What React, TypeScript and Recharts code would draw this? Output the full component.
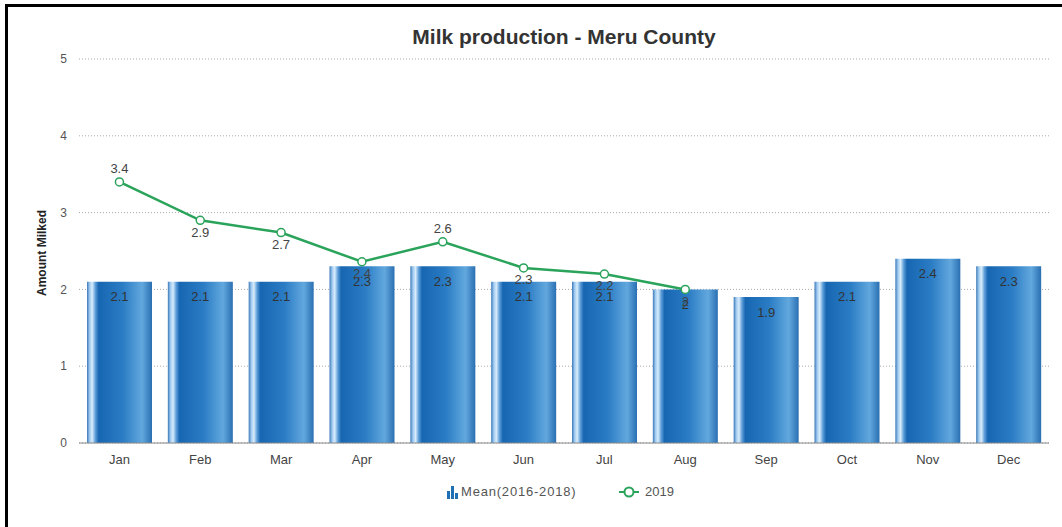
import React from "react";
import {
  ComposedChart,
  Bar,
  Line,
  XAxis,
  YAxis,
  CartesianGrid,
  LabelList,
} from "recharts";

const months = ["Jan", "Feb", "Mar", "Apr", "May", "Jun", "Jul", "Aug", "Sep", "Oct", "Nov", "Dec"];
const mean = [2.1, 2.1, 2.1, 2.3, 2.3, 2.1, 2.1, 2.0, 1.9, 2.1, 2.4, 2.3];
const y2019: (number | null)[] = [3.4, 2.9, 2.74, 2.36, 2.62, 2.28, 2.2, 2.0, null, null, null, null];
const yTicks = [0, 1, 2, 3, 4, 5];

const data = months.map((m, i) => ({ month: m, mean: mean[i], y2019: y2019[i] }));

const FONT = "'Liberation Sans', Arial, Helvetica, sans-serif";
const GREEN = "#2aa35b";

const fmt = (v: number) => String(Number(v.toFixed(1)));

const BarLabel = (props: any) => {
  const { x, y, width, value } = props;
  return (
    <text x={x + width / 2} y={y + 16} textAnchor="middle" dominantBaseline="middle"
      fontSize={13} fill="#333" fontFamily={FONT}>
      {fmt(value)}
    </text>
  );
};

const LineLabel = (props: any) => {
  const { x, y, value, index } = props;
  if (value == null) return null;
  const prev = index > 0 ? y2019[index - 1] : null;
  const next = index < y2019.length - 1 ? y2019[index + 1] : null;
  const above = index === 0 || ((prev == null || value >= prev) && (next == null || value >= next));
  return (
    <text x={x} y={above ? y - 12 : y + 13} textAnchor="middle" dominantBaseline="middle"
      fontSize={13} fill="#444" fontFamily={FONT}>
      {fmt(value)}
    </text>
  );
};

function LegendBox() {
  const txt: React.CSSProperties = { position: "absolute", top: 484, fontFamily: FONT, fontSize: 13, color: "#555", whiteSpace: "nowrap" };
  return (
    <>
      <svg width={14} height={14} style={{ position: "absolute", left: 446, top: 485 }}>
        <rect x={1} y={6} width={3} height={8} fill="#1f6fb5" />
        <rect x={5} y={1} width={3} height={13} fill="#1f6fb5" />
        <rect x={9} y={8} width={3} height={6} fill="#1f6fb5" />
      </svg>
      <div style={{ ...txt, left: 461, letterSpacing: 0.8 }}>Mean(2016-2018)</div>
      <svg width={20} height={14} style={{ position: "absolute", left: 619, top: 485 }}>
        <line x1={0} y1={7} x2={20} y2={7} stroke={GREEN} strokeWidth={2} />
        <circle cx={10} cy={7} r={4.5} fill="#fff" stroke={GREEN} strokeWidth={2} />
      </svg>
      <div style={{ ...txt, left: 645 }}>2019</div>
    </>
  );
}

export default function App() {
  return (
    <div style={{ position: "absolute", left: 0, top: 0, width: 1062, height: 527, background: "#fff" }}>
      <div style={{ position: "absolute", left: 5, top: 4, width: 1057, height: 523, borderTop: "3px solid #000", borderLeft: "3px solid #000", boxSizing: "border-box" }} />
      <div style={{ position: "absolute", left: 79, width: 970, top: 25, textAlign: "center", fontFamily: FONT, fontWeight: "bold", fontSize: 21, color: "#333" }}>
        Milk production - Meru County
      </div>
      <div style={{ position: "absolute", left: 42, top: 253, transform: "translate(-50%, -50%) rotate(-90deg)", whiteSpace: "nowrap", fontFamily: FONT, fontWeight: "bold", fontSize: 12, color: "#222" }}>
        Amount Milked
      </div>
      <ComposedChart width={1062} height={527} data={data}
        margin={{ top: 59, right: 13, left: 49, bottom: 54 }} barSize={65}>
        <defs>
          <linearGradient id="barGrad" x1="0" y1="0" x2="1" y2="0">
            <stop offset="0%" stopColor="#3a78b8" />
            <stop offset="4%" stopColor="#9fcaf0" />
            <stop offset="8%" stopColor="#d8ecfb" />
            <stop offset="13%" stopColor="#5b9cd8" />
            <stop offset="18%" stopColor="#1766b2" />
            <stop offset="55%" stopColor="#2a7cc4" />
            <stop offset="85%" stopColor="#62a8de" />
            <stop offset="100%" stopColor="#2a6fb2" />
          </linearGradient>
        </defs>
        <CartesianGrid vertical={false} stroke="#aaa" strokeDasharray="1 2" />
        <XAxis dataKey="month" tickLine={false} stroke="#888" height={30}
          tick={{ fill: "#444", fontSize: 13, fontFamily: FONT }} tickMargin={6} />
        <YAxis width={30} domain={[0, 5]} ticks={yTicks} axisLine={false} tickLine={false}
          tick={{ fill: "#555", fontSize: 12, fontFamily: FONT }} tickMargin={6} />
        <Bar dataKey="mean" fill="url(#barGrad)" isAnimationActive={false}>
          <LabelList dataKey="mean" content={BarLabel} />
        </Bar>
        <Line dataKey="y2019" stroke={GREEN} strokeWidth={2.5} isAnimationActive={false}
          dot={{ r: 4, fill: "#fff", stroke: GREEN, strokeWidth: 1.5 }}>
          <LabelList dataKey="y2019" content={LineLabel} />
        </Line>
      </ComposedChart>
      <LegendBox />
    </div>
  );
}
